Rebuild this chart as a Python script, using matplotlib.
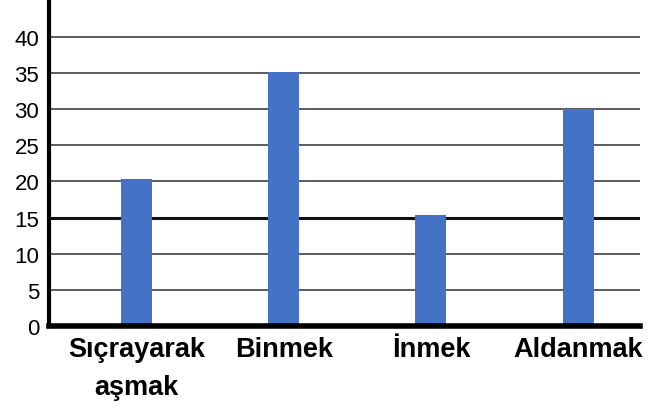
import matplotlib.pyplot as plt

categories = ["Sıçrayarak\naşmak", "Binmek", "İnmek", "Aldanmak"]
values = [20.4, 35.2, 15.3, 30.0]
yticks = [0, 5, 10, 15, 20, 25, 30, 35, 40]

fig = plt.figure(figsize=(6.48, 4.10), dpi=100)
ax = fig.add_axes([0.0756, 0.2024, 0.912, 0.790])

x = list(range(len(categories)))
ax.bar(x, values, width=0.21, color="#4472c4", zorder=3)

# gridlines, the 15 line is drawn heavier in the original
for t in yticks[1:]:
    lw = 2.2 if t == 15 else 1.2
    col = "#111111" if t == 15 else "#404040"
    ax.axhline(t, color=col, lw=lw, zorder=1)

ax.set_xlim(-0.595, 3.42)
ax.set_ylim(0, 44.8)
ax.set_yticks(yticks)
ax.set_yticklabels([str(t) for t in yticks], fontsize=16, family="Liberation Sans")
ax.set_xticks(x)
ax.set_xticklabels(categories, fontsize=19.5, fontweight="bold",
                   family="Liberation Sans", linespacing=1.6, va="top")
ax.tick_params(axis="both", length=0)
ax.tick_params(axis="y", pad=7)
ax.tick_params(axis="x", pad=7)

for s in ["top", "right"]:
    ax.spines[s].set_visible(False)
ax.spines["left"].set_linewidth(3)
ax.spines["bottom"].set_linewidth(4)
ax.spines["left"].set_zorder(4)
ax.spines["bottom"].set_zorder(4)

fig.savefig("out.png", dpi=100)
